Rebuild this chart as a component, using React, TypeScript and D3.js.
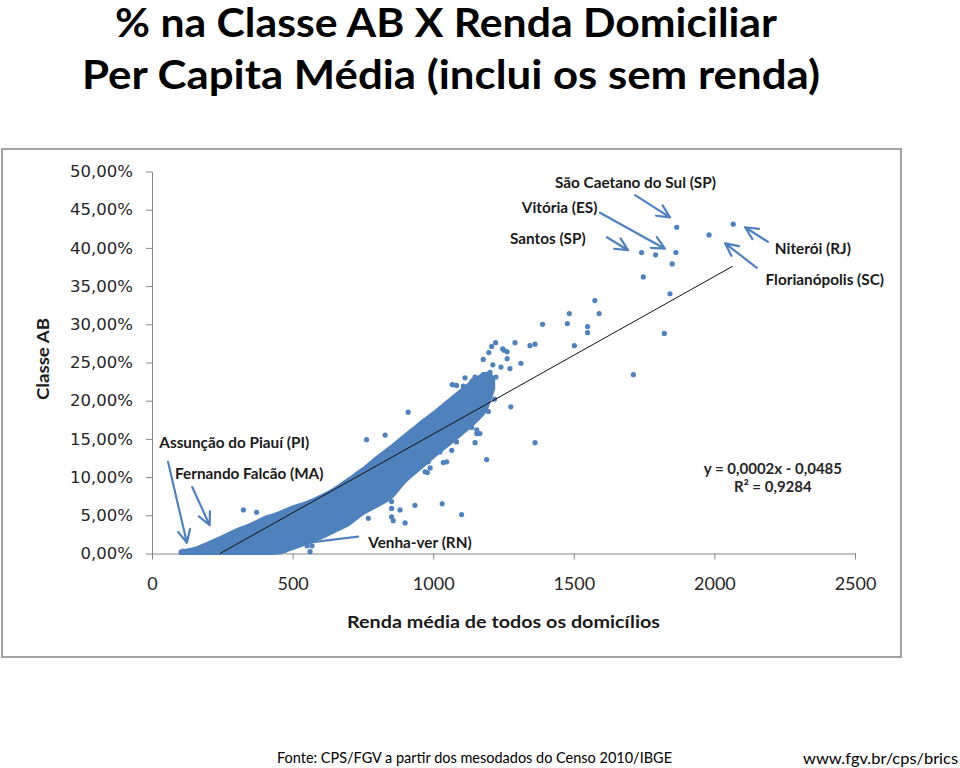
import React, { useEffect, useRef } from 'react';
import * as d3 from 'd3';

// axis ticks
const xTicks = [0, 500, 1000, 1500, 2000, 2500];
const yTicks = [0, 5, 10, 15, 20, 25, 30, 35, 40, 45, 50];

// envelope of the dense cloud of municipalities (renda, lower %, upper %)
const cloudRenda = [100, 150, 200, 250, 300, 350, 400, 450, 500, 550, 600, 650, 700, 750, 800, 850, 900, 950, 1000, 1050, 1100, 1150, 1190, 1215];
const cloudLow = [0, 0, 0, 0, 0, 0, 0, 0.07, 0.65, 1.3, 2.0, 2.9, 3.8, 5.2, 6.2, 7.3, 9.4, 11.0, 12.6, 14.1, 15.6, 17.2, 19.0, 21.6];
const cloudHigh = [0.3, 0.65, 1.4, 2.2, 3.1, 3.8, 4.7, 5.3, 6.1, 6.7, 7.5, 8.5, 9.8, 11.1, 12.6, 14.0, 15.5, 17.0, 18.4, 19.9, 21.4, 22.8, 23.6, 23.0];

// municipalities visible outside the dense cloud: [renda média, % classe AB]
const points = [
    [1866, 42.7], [2067, 43.1], [1981, 41.7], [1741, 39.4], [1791, 39.1], [1863, 39.4], [1850, 37.9],
    [1747, 36.2], [1842, 34.0], [1822, 28.8], [1712, 23.4],
    [1575, 33.1], [1590, 31.4], [1484, 31.4], [1477, 30.1], [1389, 30.0], [1549, 29.7], [1549, 28.9],
    [1502, 27.2], [1362, 27.4], [1344, 27.2], [1312, 24.9], [1291, 27.6], [1273, 24.2], [1276, 19.2],
    [1362, 14.5], [1190, 12.3],
    [1222, 27.6], [1208, 27.1], [1247, 26.8], [1263, 26.4], [1198, 26.3], [1178, 25.4], [1263, 25.5],
    [1212, 24.7], [1241, 24.4], [1202, 23.7], [1223, 23.1], [1202, 22.6], [1068, 22.1], [1252, 26.6],
    [1166, 15.7], [1149, 14.5], [1137, 16.5], [1066, 13.5], [1036, 11.9], [1083, 14.6], [1143, 19.7],
    [1176, 19.7], [1119, 17.8], [1089, 17.0], [1155, 16.2], [1155, 15.7], [1166, 19.9],
    [1205, 21.0], [1218, 20.2], [1196, 18.6],
    [852, 6.8], [935, 6.3], [1032, 6.5], [1101, 5.1], [852, 4.8], [900, 4.0], [769, 4.6], [692, 4.6],
    [882, 5.7], [852, 5.9], [858, 4.3],
    [989, 11.2], [979, 10.6], [943, 11.1], [982, 12.0], [1048, 12.0], [1024, 13.3], [977, 12.5],
    [965, 11.7], [971, 10.7],
    [562, 0.24], [552, 1.0], [569, 1.0], [110, 0.3], [135, 0.3], [325, 5.7], [372, 5.4],
    [763, 14.9], [911, 18.5], [829, 15.5], [1119, 18.1],
    [1113, 23.0], [1149, 23.1], [1166, 22.9], [1178, 23.4], [1137, 22.5], [1107, 21.9], [1083, 22.0],
    [1143, 22.7]
];

// linear trend (ends as drawn)
const trendRenda = [242, 2065];
const trendPct = [0, 37.6];

// annotations
const labels = [
    { text: 'São Caetano do Sul (SP)', renda: 1433, pct: 47.8 },
    { text: 'Vitória (ES)', renda: 1315, pct: 44.6 },
    { text: 'Santos (SP)', renda: 1273, pct: 40.5 },
    { text: 'Niterói (RJ)', renda: 2215, pct: 39.2 },
    { text: 'Florianópolis (SC)', renda: 2182, pct: 35.1 },
    { text: 'Assunção do Piauí (PI)', renda: 26, pct: 13.85 },
    { text: 'Fernando Falcão (MA)', renda: 82, pct: 9.75 },
    { text: 'Venha-ver (RN)', renda: 769, pct: 0.68 }
];

const arrows = [
    { r1: 1718, p1: 46.9, r2: 1842, p2: 44.0 },
    { r1: 1593, p1: 44.6, r2: 1824, p2: 39.9 },
    { r1: 1618, p1: 41.4, r2: 1693, p2: 39.7 },
    { r1: 2190, p1: 40.8, r2: 2109, p2: 42.7 },
    { r1: 2151, p1: 37.4, r2: 2038, p2: 40.6 },
    { r1: 57, p1: 12.0, r2: 124, p2: 1.4 },
    { r1: 143, p1: 8.7, r2: 205, p2: 3.7 },
    { r1: 733, p1: 2.2, r2: 430, p2: 0.85 }
];

const equation = ['y = 0,0002x - 0,0485', 'R² = 0,9284'];

const BLUE = '#4F81BD';
const FONT = 'Lato, "Open Sans", sans-serif';

const ScatterChart = ({ width, height }) => {
    const svgRef = useRef(null);

    useEffect(() => {
        const svg = d3.select(svgRef.current);
        svg.selectAll('*').remove();

        const xScale = d3.scaleLinear().domain([0, 2500]).range([152, 855]);
        const yScale = d3.scaleLinear().domain([0, 50]).range([553.5, 171.5]);

        // page title
        svg.append('text')
            .attr('x', 446).attr('y', 37)
            .attr('text-anchor', 'middle')
            .attr('font-family', FONT).attr('font-weight', 700).attr('font-size', 41)
            .attr('textLength', 662).attr('lengthAdjust', 'spacingAndGlyphs')
            .text('% na Classe AB X Renda Domiciliar');
        svg.append('text')
            .attr('x', 451).attr('y', 89)
            .attr('text-anchor', 'middle')
            .attr('font-family', FONT).attr('font-weight', 700).attr('font-size', 41)
            .attr('textLength', 738).attr('lengthAdjust', 'spacingAndGlyphs')
            .text('Per Capita Média (inclui os sem renda)');

        // chart frame
        svg.append('rect')
            .attr('x', 2).attr('y', 149).attr('width', 899).attr('height', 508)
            .attr('fill', '#fff').attr('stroke', '#a3a3a3').attr('stroke-width', 2);

        // axes
        const yAxis = d3.axisLeft(yScale)
            .tickValues(yTicks)
            .tickSize(6).tickSizeOuter(0).tickPadding(13)
            .tickFormat(d => `${d.toFixed(2).replace('.', ',')}%`);
        const gy = svg.append('g').attr('transform', 'translate(152,0)').call(yAxis);
        gy.selectAll('path, line').attr('stroke', '#868686');
        gy.selectAll('text')
            .attr('font-family', '"DejaVu Sans", Verdana, sans-serif')
            .attr('font-size', 16.5).attr('fill', '#262626');

        const xAxis = d3.axisBottom(xScale)
            .tickValues(xTicks)
            .tickSize(6).tickSizeOuter(0).tickPadding(18)
            .tickFormat(d => `${d}`);
        const gx = svg.append('g').attr('transform', 'translate(0,553.5)').call(xAxis);
        gx.selectAll('path, line').attr('stroke', '#868686');
        gx.selectAll('text')
            .attr('font-family', FONT)
            .attr('font-size', 18).attr('fill', '#262626');

        // axis titles
        svg.append('text')
            .attr('x', 503.5).attr('y', 628)
            .attr('text-anchor', 'middle')
            .attr('font-family', FONT).attr('font-weight', 700).attr('font-size', 17)
            .attr('textLength', 313).attr('lengthAdjust', 'spacingAndGlyphs')
            .attr('fill', '#1a1a1a')
            .text('Renda média de todos os domicílios');
        svg.append('text')
            .attr('transform', 'translate(49,359) rotate(-90)')
            .attr('text-anchor', 'middle')
            .attr('font-family', FONT).attr('font-weight', 700).attr('font-size', 17.5)
            .attr('textLength', 82).attr('lengthAdjust', 'spacingAndGlyphs')
            .attr('fill', '#1a1a1a')
            .text('Classe AB');

        // dense cloud
        const cloud = cloudRenda.map((r, i) => ({ renda: r, low: cloudLow[i], high: cloudHigh[i] }));
        const area = d3.area()
            .x(d => xScale(d.renda))
            .y0(d => yScale(d.low))
            .y1(d => yScale(d.high))
            .curve(d3.curveMonotoneX);
        svg.append('path')
            .datum(cloud)
            .attr('d', area)
            .attr('fill', BLUE)
            .attr('stroke', BLUE)
            .attr('stroke-width', 3)
            .attr('stroke-linejoin', 'round');

        // individual points
        svg.selectAll('.point')
            .data(points)
            .enter()
            .append('circle')
            .attr('class', 'point')
            .attr('cx', d => xScale(d[0]))
            .attr('cy', d => yScale(d[1]))
            .attr('r', 2.6)
            .attr('fill', BLUE);

        // trend line
        const line = d3.line()
            .x(d => xScale(d[0]))
            .y(d => yScale(d[1]));
        svg.append('path')
            .datum(trendRenda.map((r, i) => [r, trendPct[i]]))
            .attr('d', line)
            .attr('fill', 'none')
            .attr('stroke', '#111')
            .attr('stroke-width', 1);

        // equation
        svg.append('g')
            .selectAll('text')
            .data(equation)
            .enter()
            .append('text')
            .attr('x', xScale(2208))
            .attr('y', (d, i) => yScale(i === 0 ? 10.4 : 8.1))
            .attr('text-anchor', 'middle')
            .attr('font-family', FONT).attr('font-weight', 700).attr('font-size', 15)
            .attr('fill', '#262626')
            .text(d => d);

        // arrows
        const headLen = 14;
        const headAng = 0.45;
        svg.selectAll('.arrow')
            .data(arrows)
            .enter()
            .append('path')
            .attr('class', 'arrow')
            .attr('d', d => {
                const x1 = xScale(d.r1), y1 = yScale(d.p1);
                const x2 = xScale(d.r2), y2 = yScale(d.p2);
                const a = Math.atan2(y1 - y2, x1 - x2);
                const ax = x2 + headLen * Math.cos(a + headAng), ay = y2 + headLen * Math.sin(a + headAng);
                const bx = x2 + headLen * Math.cos(a - headAng), by = y2 + headLen * Math.sin(a - headAng);
                return `M${x1},${y1}L${x2},${y2}M${ax},${ay}L${x2},${y2}L${bx},${by}`;
            })
            .attr('fill', 'none')
            .attr('stroke', BLUE)
            .attr('stroke-width', 2.2)
            .attr('stroke-linecap', 'round')
            .attr('stroke-linejoin', 'round');

        // annotation labels
        svg.selectAll('.label')
            .data(labels)
            .enter()
            .append('text')
            .attr('class', 'label')
            .attr('x', d => xScale(d.renda))
            .attr('y', d => yScale(d.pct))
            .attr('font-family', FONT).attr('font-weight', 700).attr('font-size', 15.3)
            .attr('fill', '#1a1a1a')
            .text(d => d.text);

        // footer
        svg.append('text')
            .attr('x', 277).attr('y', 763)
            .attr('font-family', FONT).attr('font-size', 16)
            .attr('textLength', 395).attr('lengthAdjust', 'spacingAndGlyphs')
            .text('Fonte: CPS/FGV a partir dos mesodados do Censo 2010/IBGE');
        svg.append('text')
            .attr('x', 803).attr('y', 764)
            .attr('font-family', FONT).attr('font-size', 14.5)
            .attr('textLength', 155).attr('lengthAdjust', 'spacingAndGlyphs')
            .text('www.fgv.br/cps/brics');

    }, [width, height]);

    return (
        <svg ref={svgRef} width={width} height={height}
            style={{ position: 'absolute', left: 0, top: 0, background: '#fff' }} />
    );
};

export default function App() {
    return <ScatterChart width={960} height={768} />;
}
